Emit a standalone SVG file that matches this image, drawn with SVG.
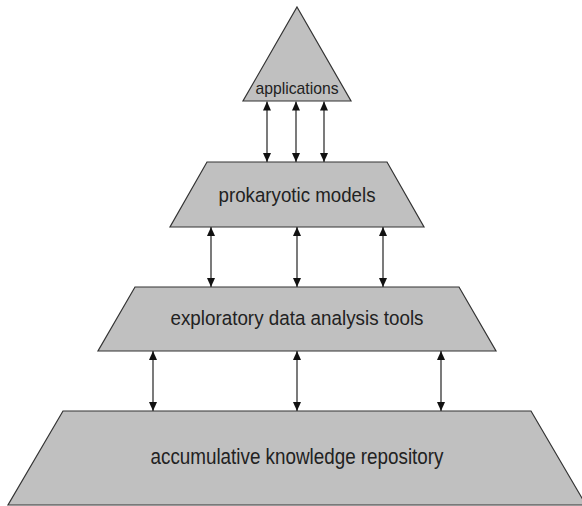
<svg xmlns="http://www.w3.org/2000/svg" width="582" height="506" viewBox="0 0 582 506">
<style>
.shape{fill:#c0c0c0;stroke:#333;stroke-width:1.2}
.lbl{font-family:"Liberation Sans",Arial,sans-serif;fill:#222;text-anchor:middle}
.conn line{stroke:#333;stroke-width:1.3;marker-start:url(#ah);marker-end:url(#ah)}
</style>
<defs>
<marker id="ah" markerUnits="userSpaceOnUse" markerWidth="9" markerHeight="8" refX="9" refY="4" orient="auto-start-reverse" viewBox="0 0 9 8">
<path d="M0,0 L9,4 L0,8 z" fill="#111"/>
</marker>
</defs>
<rect width="582" height="506" fill="#fff"/>
<g id="applications">
<polygon class="shape" points="297,7 351,101 243,101"/>
<text class="lbl" x="297" y="94" font-size="17" textLength="83" lengthAdjust="spacingAndGlyphs">applications</text>
</g>
<g id="prokaryotic-models">
<polygon class="shape" points="207,162 387,162 424,227 170,227"/>
<text class="lbl" x="297" y="202" font-size="20.5" textLength="157" lengthAdjust="spacingAndGlyphs">prokaryotic models</text>
</g>
<g id="exploratory-tools">
<polygon class="shape" points="135,287 459,287 496,351 98,351"/>
<text class="lbl" x="297" y="325" font-size="20.5" textLength="253" lengthAdjust="spacingAndGlyphs">exploratory data analysis tools</text>
</g>
<g id="knowledge-repository">
<polygon class="shape" points="63,411 531,411 586,505 8,505"/>
<text class="lbl" x="297" y="464" font-size="21.5" textLength="293" lengthAdjust="spacingAndGlyphs">accumulative knowledge repository</text>
</g>
<g class="conn" id="connectors">
<line x1="267" y1="101.5" x2="267" y2="162"/>
<line x1="296" y1="101.5" x2="296" y2="162"/>
<line x1="324" y1="101.5" x2="324" y2="162"/>
<line x1="211" y1="227" x2="211" y2="287"/>
<line x1="297" y1="227" x2="297" y2="287"/>
<line x1="383" y1="227" x2="383" y2="287"/>
<line x1="153" y1="351" x2="153" y2="411"/>
<line x1="297" y1="351" x2="297" y2="411"/>
<line x1="441" y1="351" x2="441" y2="411"/>
</g>
</svg>
